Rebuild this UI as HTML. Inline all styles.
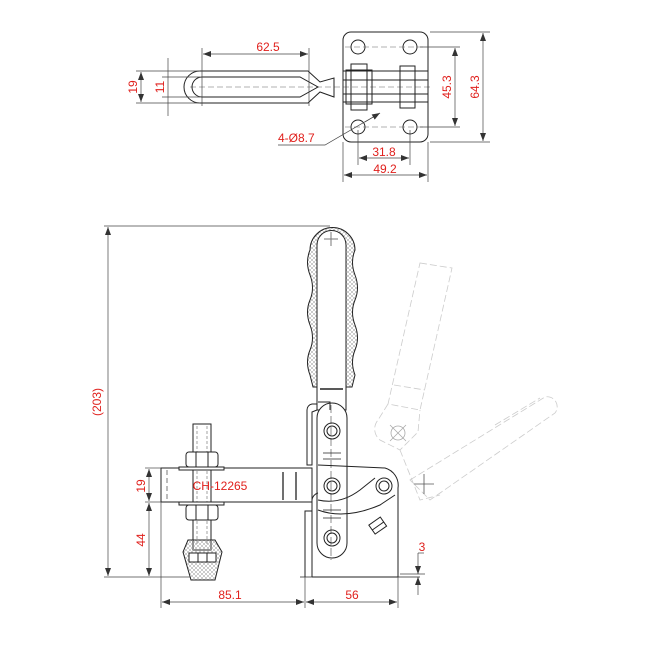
<!DOCTYPE html>
<html><head><meta charset="utf-8"><style>
html,body{margin:0;padding:0;background:#fff;width:650px;height:650px;overflow:hidden}
svg text{font-family:"Liberation Sans",sans-serif;fill:#e0201c;font-size:12px}
</style></head><body>
<svg width="650" height="650" viewBox="0 0 650 650" xmlns="http://www.w3.org/2000/svg">
<defs>
<pattern id="hatch" width="4" height="4" patternUnits="userSpaceOnUse">
<path d="M0 0L4 4M4 0L0 4" stroke="#999" stroke-width="0.5"/>
</pattern>
<marker id="a" markerWidth="8" markerHeight="6" refX="8" refY="3" orient="auto-start-reverse" markerUnits="userSpaceOnUse">
<path d="M0 0L8 3L0 6z" fill="#333"/>
</marker>
</defs>
<g fill="none" stroke="#222" stroke-width="1">
<rect x="343" y="32" width="85" height="110" rx="8"/>
<circle cx="358" cy="47" r="7"/><circle cx="410" cy="47" r="7"/>
<circle cx="358" cy="127" r="7"/><circle cx="410" cy="127" r="7"/>
<g stroke="#666" stroke-dasharray="6,3" stroke-width="0.6">
<line x1="345" y1="47" x2="425" y2="47"/><line x1="345" y1="127" x2="425" y2="127"/>
<line x1="190" y1="87" x2="430" y2="87"/>
</g>
<path d="M200 71 L308 71 L320 82 L334 78 L334 97 L320 92 L308 103 L200 103 A16 16 0 0 1 200 71Z"/>
<path d="M202 77 L300 77 L318 87 L300 97 L202 97 A10 10 0 0 1 202 77Z"/>
<rect x="343" y="71" width="85" height="31"/>
<rect x="346" y="70" width="26" height="34"/>
<rect x="351" y="64" width="16" height="46"/>
<rect x="400" y="66" width="15" height="42"/>
<line x1="343" y1="80" x2="428" y2="80"/><line x1="343" y1="94" x2="428" y2="94"/>
</g>
<g stroke="#444" stroke-width="0.7" fill="none">
<line x1="202" y1="48" x2="202" y2="106"/><line x1="309" y1="48" x2="309" y2="106"/>
<line x1="203" y1="54" x2="308" y2="54" marker-start="url(#a)" marker-end="url(#a)"/>
<line x1="136" y1="71" x2="200" y2="71"/><line x1="136" y1="103" x2="200" y2="103"/>
<line x1="141" y1="72" x2="141" y2="102" marker-start="url(#a)" marker-end="url(#a)"/>
<line x1="168" y1="58" x2="168" y2="116"/>
<line x1="162" y1="77" x2="200" y2="77"/><line x1="162" y1="97" x2="200" y2="97"/>
<line x1="430" y1="32" x2="490" y2="32"/><line x1="430" y1="142" x2="490" y2="142"/>
<line x1="420" y1="47" x2="460" y2="47"/><line x1="420" y1="127" x2="460" y2="127"/>
<line x1="455" y1="48" x2="455" y2="126" marker-start="url(#a)" marker-end="url(#a)"/>
<line x1="483" y1="33" x2="483" y2="141" marker-start="url(#a)" marker-end="url(#a)"/>
<line x1="358" y1="130" x2="358" y2="165"/><line x1="410" y1="130" x2="410" y2="165"/>
<line x1="359" y1="158" x2="409" y2="158" marker-start="url(#a)" marker-end="url(#a)"/>
<line x1="343" y1="142" x2="343" y2="182"/><line x1="428" y1="142" x2="428" y2="182"/>
<line x1="344" y1="175" x2="427" y2="175" marker-start="url(#a)" marker-end="url(#a)"/>
<path d="M278 145 L325 145 L380 113" /><line x1="365" y1="122" x2="380" y2="113" marker-end="url(#a)"/>
</g>
<text x="268" y="51" text-anchor="middle">62.5</text>
<text transform="translate(137,87) rotate(-90)" text-anchor="middle">19</text>
<text transform="translate(164,87) rotate(-90)" text-anchor="middle">11</text>
<text transform="translate(451,87) rotate(-90)" text-anchor="middle">45.3</text>
<text transform="translate(479,87) rotate(-90)" text-anchor="middle">64.3</text>
<text x="384" y="156" text-anchor="middle">31.8</text>
<text x="385" y="173" text-anchor="middle">49.2</text>
<text x="278" y="142">4-Ø8.7</text>

<g fill="none" stroke="#ccc" stroke-width="0.8" stroke-dasharray="7,3">
<path d="M420 263 L452 268 L420 410 L388 404 Z"/>
<line x1="394" y1="385" x2="425" y2="390"/>
<path d="M388 404 L378 420 A14 14 0 0 0 380 440 L400 450 L418 432 L420 410"/>
<path d="M410 480 L545 397 A10 10 0 0 1 555 413 L430 500 Z"/>
<path d="M495 425 L540 398"/>
<path d="M400 450 L420 500 L440 495"/>
</g>
<g stroke="#aaa" stroke-width="0.8" fill="none">
<circle cx="398" cy="433" r="7"/>
<line x1="390" y1="441" x2="406" y2="425"/><line x1="390" y1="425" x2="406" y2="441"/>
<line x1="414" y1="484" x2="434" y2="484" stroke="#555"/><line x1="424" y1="474" x2="424" y2="494" stroke="#555"/>
</g>

<g fill="none" stroke="#222" stroke-width="1">
<path d="M310 250 A22 22 0 0 1 355 250 Q350 262 355 275 Q360 288 355 300 Q350 312 355 325 Q360 338 355 350 Q350 362 355 375 L352 387 L313 387 L310 375 Q305 362 310 350 Q315 338 310 325 Q305 312 310 300 Q315 288 310 275 Q305 262 310 250Z" fill="url(#hatch)"/>
<path d="M317 245 A14 14 0 0 1 346 245 L346 410 L317 410 Z" fill="#fff"/>
<line x1="331" y1="232" x2="331" y2="246" stroke="#777"/><line x1="324" y1="239" x2="338" y2="239" stroke="#777"/>
<line x1="320" y1="389" x2="343" y2="389" stroke-width="1.5"/>
<path d="M317 418 A15 15 0 0 1 347 418 L347 543 A15 15 0 0 1 317 543 Z" fill="#fff"/>
<g stroke="#444" stroke-dasharray="8,3" stroke-width="0.6"><line x1="331" y1="405" x2="331" y2="560"/></g>
<line x1="323" y1="453" x2="341" y2="453" stroke-width="0.7"/><line x1="323" y1="459" x2="341" y2="459" stroke-width="0.7"/>
<line x1="323" y1="510" x2="341" y2="510" stroke-width="0.7"/><line x1="323" y1="518" x2="341" y2="518" stroke-width="0.7"/>
<path d="M317 404 L312 404 A6 6 0 0 0 307 410 L307 465 L312 465 L312 412 L317 410"/>
<path d="M318 402 L330 402 L330 410"/>
<path d="M312 577 L312 500 A8 8 0 0 1 318 493"/>
<path d="M318 465 L385 468 A18 18 0 0 1 398 488 L398 577 L312 577"/>
<path d="M318 500 Q340 505 360 490 L375 478"/>
<path d="M318 510 Q345 520 380 505 L395 495"/>
<path d="M305 577 L305 511 L312 511"/>
<line x1="300" y1="577" x2="420" y2="577" stroke-width="0.7"/>
<circle cx="332" cy="431" r="8"/><circle cx="332" cy="431" r="5"/>
<circle cx="332" cy="486" r="8"/><circle cx="332" cy="486" r="5"/>
<circle cx="332" cy="538" r="8"/><circle cx="332" cy="538" r="5"/>
<circle cx="384" cy="486" r="8"/><circle cx="384" cy="486" r="5"/>
<rect x="371" y="520" width="14" height="11" transform="rotate(-35 378 526)"/>
<line x1="371" y1="526" x2="385" y2="526" transform="rotate(-35 378 526)"/>
<rect x="161" y="468" width="151" height="34" fill="#fff"/>
<line x1="167" y1="470" x2="167" y2="500" stroke-dasharray="5,3" stroke-width="0.6"/>
<line x1="283" y1="472" x2="283" y2="500" stroke-width="1.3"/>
<line x1="296" y1="472" x2="296" y2="500" stroke-width="1.3"/>
<path d="M193 424 L211 424 L211 550 L193 550 Z" fill="#fff"/>
<g stroke="#666" stroke-width="0.6" stroke-dasharray="3,2"><line x1="197" y1="426" x2="197" y2="545"/><line x1="207" y1="426" x2="207" y2="545"/></g>
<rect x="186" y="452" width="32" height="15" rx="3" fill="#fff"/>
<line x1="196" y1="452" x2="196" y2="467"/><line x1="208" y1="452" x2="208" y2="467"/>
<rect x="179" y="467" width="45" height="3" fill="#fff"/>
<rect x="179" y="502" width="45" height="3" fill="#fff"/>
<rect x="186" y="505" width="32" height="15" rx="3" fill="#fff"/>
<line x1="196" y1="505" x2="196" y2="520"/><line x1="208" y1="505" x2="208" y2="520"/>
<path d="M188 540 L215 540 L222 552 L215 580 L191 580 L183 552 Z" fill="url(#hatch)"/>
<rect x="189" y="553" width="27" height="9" fill="#fff"/>
<line x1="198" y1="553" x2="198" y2="562"/><line x1="207" y1="553" x2="207" y2="562"/>
</g>
<text x="220" y="490" text-anchor="middle" font-size="12">CH-12265</text>

<g stroke="#444" stroke-width="0.7" fill="none">
<line x1="104" y1="226" x2="330" y2="226"/>
<line x1="104" y1="577" x2="190" y2="577"/>
<line x1="108" y1="227" x2="108" y2="576" marker-start="url(#a)" marker-end="url(#a)"/>
<line x1="145" y1="468" x2="161" y2="468"/><line x1="145" y1="502" x2="161" y2="502"/>
<line x1="149" y1="469" x2="149" y2="501" marker-start="url(#a)" marker-end="url(#a)"/>
<line x1="149" y1="503" x2="149" y2="576" marker-start="url(#a)" marker-end="url(#a)"/>
<line x1="161" y1="502" x2="161" y2="608"/><line x1="305" y1="577" x2="305" y2="608"/>
<line x1="398" y1="577" x2="398" y2="608"/>
<line x1="162" y1="602" x2="304" y2="602" marker-start="url(#a)" marker-end="url(#a)"/>
<line x1="306" y1="602" x2="397" y2="602" marker-start="url(#a)" marker-end="url(#a)"/>
<line x1="400" y1="574" x2="425" y2="574"/>
<line x1="418" y1="553" x2="418" y2="574" marker-end="url(#a)"/>
<line x1="418" y1="595" x2="418" y2="577" marker-end="url(#a)"/>
<line x1="418" y1="553" x2="424" y2="553"/>
</g>
<text transform="translate(101,402) rotate(-90)" text-anchor="middle">(203)</text>
<text transform="translate(145,486) rotate(-90)" text-anchor="middle">19</text>
<text transform="translate(145,540) rotate(-90)" text-anchor="middle">44</text>
<text x="230" y="599" text-anchor="middle">85.1</text>
<text x="352" y="599" text-anchor="middle">56</text>
<text x="422" y="551" text-anchor="middle">3</text>
</svg>
</body></html>
